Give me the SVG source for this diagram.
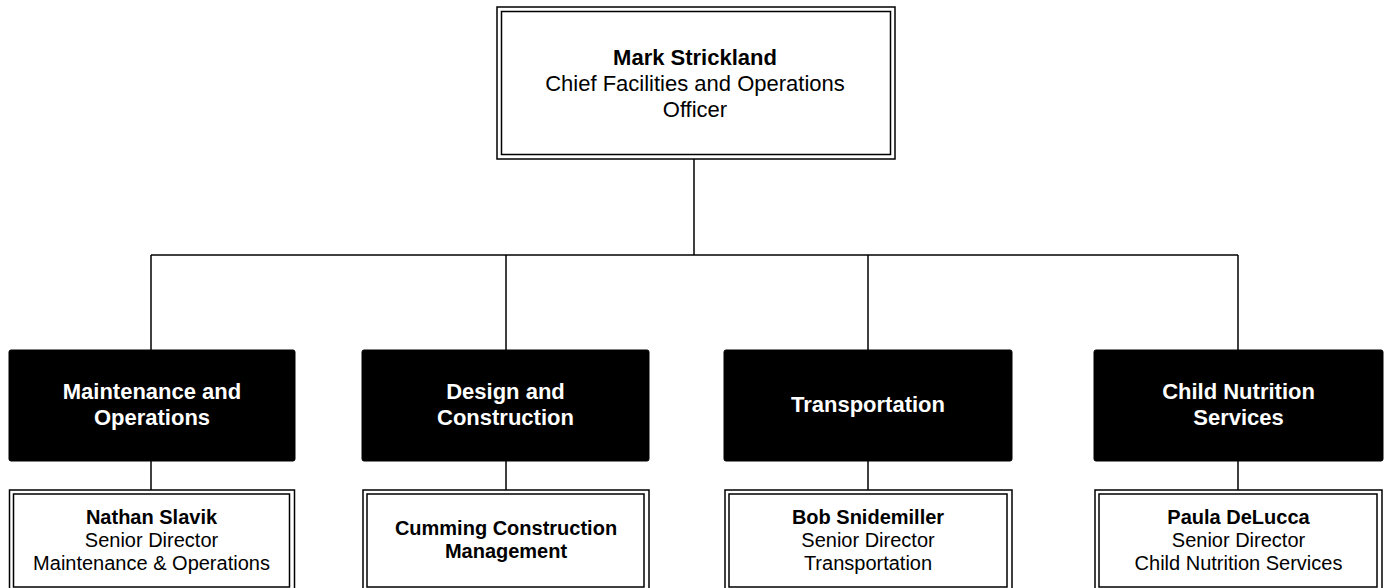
<svg xmlns="http://www.w3.org/2000/svg" width="1384" height="588" viewBox="0 0 1384 588">
<style>
.conn{stroke:#000;stroke-width:1.5;fill:none}
.dbl{fill:#fff;stroke:#000;stroke-width:1.5}
.dbli{fill:none;stroke:#000;stroke-width:1.5}
.blk{fill:#000;stroke:#000;stroke-width:1}
text{font-family:"Liberation Sans",Arial,sans-serif;text-anchor:middle}
.t22b{font-size:22px;font-weight:bold;fill:#000}
.t22{font-size:22px;fill:#000}
.w22b{font-size:22px;font-weight:bold;fill:#fff}
.t20b{font-size:20px;font-weight:bold;fill:#000}
.t20{font-size:20px;fill:#000}
</style>
<rect width="1384" height="588" fill="#fff"/>
<g id="connectors">
<line class="conn" x1="694" y1="159" x2="694" y2="255"/>
<line class="conn" x1="151" y1="255" x2="1238" y2="255"/>
<line class="conn" x1="151" y1="255" x2="151" y2="350"/>
<line class="conn" x1="506" y1="255" x2="506" y2="350"/>
<line class="conn" x1="868" y1="255" x2="868" y2="350"/>
<line class="conn" x1="1238" y1="255" x2="1238" y2="350"/>
<line class="conn" x1="151" y1="461" x2="151" y2="490"/>
<line class="conn" x1="506" y1="461" x2="506" y2="490"/>
<line class="conn" x1="868" y1="461" x2="868" y2="490"/>
<line class="conn" x1="1238" y1="461" x2="1238" y2="490"/>
</g>
<g id="ceo">
<rect class="dbl" x="497" y="7" width="398" height="152"/>
<rect class="dbli" x="501.5" y="11.5" width="389" height="143"/>
<text class="t22b" x="695" y="65">Mark Strickland</text>
<text class="t22" x="695" y="91">Chief Facilities and Operations</text>
<text class="t22" x="695" y="117">Officer</text>
</g>
<g id="dept-mo">
<rect class="blk" x="9" y="350" width="286" height="111" rx="2"/>
<text class="w22b" x="152" y="399">Maintenance and</text>
<text class="w22b" x="152" y="425">Operations</text>
</g>
<g id="dept-dc">
<rect class="blk" x="362" y="350" width="287" height="111" rx="2"/>
<text class="w22b" x="505.5" y="399">Design and</text>
<text class="w22b" x="505.5" y="425">Construction</text>
</g>
<g id="dept-tr">
<rect class="blk" x="724" y="350" width="288" height="111" rx="2"/>
<text class="w22b" x="868" y="412">Transportation</text>
</g>
<g id="dept-cn">
<rect class="blk" x="1094" y="350" width="289" height="111" rx="2"/>
<text class="w22b" x="1238.5" y="399">Child Nutrition</text>
<text class="w22b" x="1238.5" y="425">Services</text>
</g>
<g id="head-mo">
<rect class="dbl" x="9.5" y="490" width="285" height="102"/>
<rect class="dbli" x="13.5" y="494" width="276" height="93"/>
<text class="t20b" x="151.5" y="524">Nathan Slavik</text>
<text class="t20" x="151.5" y="547">Senior Director</text>
<text class="t20" x="151.5" y="570">Maintenance &amp; Operations</text>
</g>
<g id="head-dc">
<rect class="dbl" x="363" y="490" width="286" height="102"/>
<rect class="dbli" x="367" y="494" width="277" height="93"/>
<text class="t20b" x="506" y="535">Cumming Construction</text>
<text class="t20b" x="506" y="558">Management</text>
</g>
<g id="head-tr">
<rect class="dbl" x="725" y="490" width="287" height="102"/>
<rect class="dbli" x="729" y="494" width="278" height="93"/>
<text class="t20b" x="868" y="524">Bob Snidemiller</text>
<text class="t20" x="868" y="547">Senior Director</text>
<text class="t20" x="868" y="570">Transportation</text>
</g>
<g id="head-cn">
<rect class="dbl" x="1095" y="490" width="287" height="102"/>
<rect class="dbli" x="1099" y="494" width="278" height="93"/>
<text class="t20b" x="1238.5" y="524">Paula DeLucca</text>
<text class="t20" x="1238.5" y="547">Senior Director</text>
<text class="t20" x="1238.5" y="570">Child Nutrition Services</text>
</g>
</svg>
